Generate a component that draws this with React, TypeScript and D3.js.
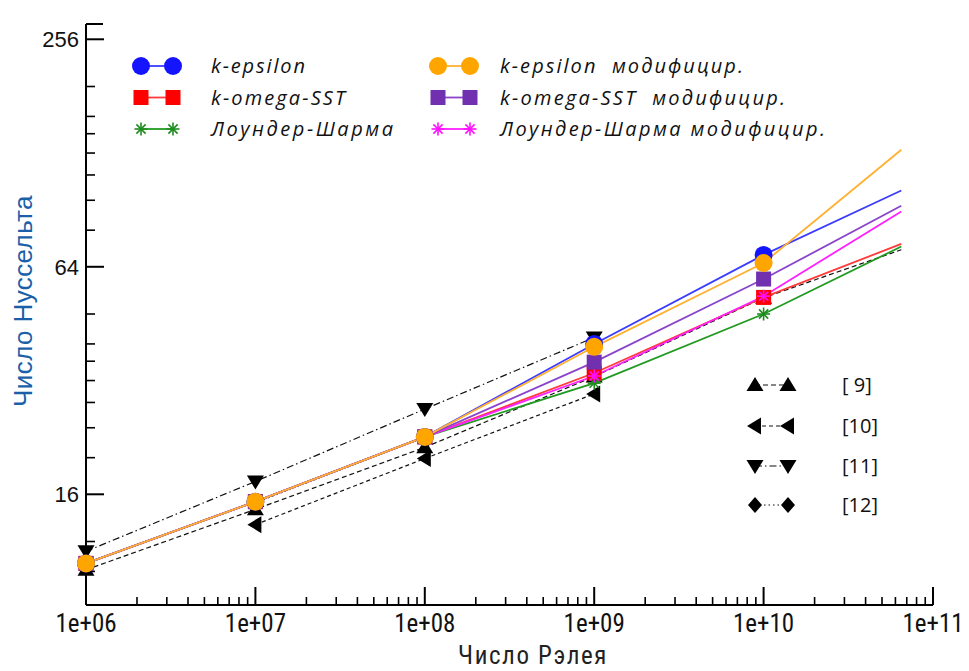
import React from "react";
import * as d3 from "d3";

// ---- data ----
const rayleigh = [1e6, 1e7, 1e8, 1e9, 1e10, 6.5e10];
const kEpsilon = [10.5, 15.3, 22.7, 40.0, 68.8, 101.9];
const kOmegaSST = [10.5, 15.3, 22.7, 33.5, 53.1, 73.6];
const lounderSharma = [10.5, 15.3, 22.7, 31.5, 48.0, 72.4];
const kEpsilonMod = [10.5, 15.3, 22.7, 39.3, 65.5, 130.6];
const kOmegaSSTMod = [10.5, 15.3, 22.7, 35.8, 59.4, 92.8];
const lounderSharmaMod = [10.5, 15.3, 22.7, 32.9, 53.5, 89.7];

const ref9X = [1e6, 1e7, 1e8, 1e9, 1e10, 6.5e10];
const ref9 = [10.1, 14.6, 21.3, 32.8, 53.0, 71.0];
const ref10X = [1e7, 1e8, 1e9];
const ref10 = [13.3, 19.9, 29.5];
const ref11X = [1e6, 1e7, 1e8, 1e9];
const ref11 = [11.3, 17.3, 26.9, 41.6];
const ref12X = [1e7, 1e8];
const ref12 = [15.2, 22.7];

const xTicks = [1e6, 1e7, 1e8, 1e9, 1e10, 1e11];
const xTickLabels = ["1e+06", "1e+07", "1e+08", "1e+09", "1e+10", "1e+11"];
const yTicks = [16, 64, 256];
const yMinorTicks = [10, 12, 20, 24, 28, 32, 36, 40, 48, 80, 96, 112, 128, 144, 160, 192];

const xLabel = "Число Рэлея";
const yLabel = "Число Нуссельта";

type Shape = "circle" | "square" | "star" | "up" | "left" | "down" | "diamond";

const models = [
  { name: "k-epsilon", values: kEpsilon, color: "#1414ff", line: "#3c3cff", shape: "circle" as Shape, tl: 94 },
  { name: "k-omega-SST", values: kOmegaSST, color: "#ff0000", line: "#ff3a3a", shape: "square" as Shape, tl: 134 },
  { name: "Лоундер-Шарма", values: lounderSharma, color: "#1e8c1e", line: "#229a22", shape: "star" as Shape, tl: 182 },
  { name: "k-epsilon  модифицир.", values: kEpsilonMod, color: "#ffa500", line: "#ffb030", shape: "circle" as Shape, tl: 243 },
  { name: "k-omega-SST  модифицир.", values: kOmegaSSTMod, color: "#7030b0", line: "#8a44cc", shape: "square" as Shape, tl: 285 },
  { name: "Лоундер-Шарма модифицир.", values: lounderSharmaMod, color: "#ff10ff", line: "#ff20ff", shape: "star" as Shape, tl: 325 },
];

const refs = [
  { name: "[ 9]", xs: ref9X, values: ref9, shape: "up" as Shape, dash: "5,3" },
  { name: "[10]", xs: ref10X, values: ref10, shape: "left" as Shape, dash: "4,3" },
  { name: "[11]", xs: ref11X, values: ref11, shape: "down" as Shape, dash: "7,3,1.5,3" },
  { name: "[12]", xs: ref12X, values: ref12, shape: "diamond" as Shape, dash: "1.5,3" },
];

const W = 969;
const H = 671;

function Marker({ shape, x, y, color }: { shape: Shape; x: number; y: number; color: string }) {
  const t = `translate(${x},${y})`;
  switch (shape) {
    case "circle":
      return <circle cx={x} cy={y} r={9} fill={color} />;
    case "square":
      return <rect x={x - 7.5} y={y - 7.5} width={15} height={15} fill={color} />;
    case "star": {
      const r = 6.5;
      return (
        <g transform={t} stroke={color} strokeWidth={1.6}>
          {[0, 45, 90, 135].map((a) => {
            const rad = (a * Math.PI) / 180;
            return <line key={a} x1={-r * Math.cos(rad)} y1={-r * Math.sin(rad)} x2={r * Math.cos(rad)} y2={r * Math.sin(rad)} />;
          })}
        </g>
      );
    }
    case "up":
      return <path transform={t} d="M0,-8 L8.5,6 L-8.5,6 Z" fill={color} />;
    case "down":
      return <path transform={t} d="M0,8 L8.5,-6 L-8.5,-6 Z" fill={color} />;
    case "left":
      return <path transform={t} d="M-8,0 L6,-8.5 L6,8.5 Z" fill={color} />;
    case "diamond":
      return <path transform={t} d="M0,-8 L7,0 L0,8 L-7,0 Z" fill={color} />;
  }
  return null;
}

export default function App() {
  const x = d3.scaleLog().domain([1e6, 1e11]).range([86, 933]);
  const y = d3.scaleLog().base(2).domain([8.15, 281]).range([605, 24]);

  const lineGen = d3
    .line<[number, number]>()
    .x((d) => x(d[0]))
    .y((d) => y(d[1]));

  const xMinor: number[] = [];
  for (let e = 6; e < 11; e++) {
    for (let k = 2; k <= 9; k++) xMinor.push(k * Math.pow(10, e));
  }

  const tickFont = "'Liberation Sans Narrow', 'Roboto Condensed', 'Arial Narrow', sans-serif";
  const legendFont = "'Open Sans', 'Noto Sans', sans-serif";

  const markerOrder = [0, 1, 2, 4, 5, 3];
  const lineOrder = [0, 1, 2, 5, 4, 3];

  return (
    <div style={{ position: "absolute", left: 0, top: 0 }}>
      <svg width={W} height={H} style={{ display: "block", background: "#fff" }}>
        {/* axes */}
        <g stroke="#000" strokeWidth={2} fill="none">
          <line x1={86} y1={y.range()[1]} x2={86} y2={605} />
          <line x1={86} y1={605} x2={933} y2={605} />
          <line x1={86} y1={24} x2={103} y2={24} />
          {yTicks.map((t) => (
            <line key={t} x1={86} x2={104} y1={y(t)} y2={y(t)} />
          ))}
          {yMinorTicks.map((t) => (
            <line key={"m" + t} x1={86} x2={95} y1={y(t)} y2={y(t)} strokeWidth={1.6} />
          ))}
          {xTicks.map((t) => (
            <line key={t} x1={x(t)} x2={x(t)} y1={605} y2={587} />
          ))}
          {xMinor.map((t) => (
            <line key={"m" + t} x1={x(t)} x2={x(t)} y1={605} y2={597} strokeWidth={1.6} />
          ))}
        </g>
        {/* tick labels */}
        {yTicks.map((t) => (
          <text key={t} x={79} y={y(t)} dy="0.36em" textAnchor="end" fontFamily="'Liberation Sans', Arial, sans-serif" fontSize={22} fill="#111">
            {t}
          </text>
        ))}
        {xTicks.map((t, i) => (
          <text key={t} x={x(t)} y={623} dy="0.36em" textAnchor="middle" fontFamily={tickFont} fontSize={25} fill="#111">
            {xTickLabels[i]}
          </text>
        ))}
        <text x={533} y={664} textAnchor="middle" fontFamily={tickFont} fontSize={25} letterSpacing={1.6} fill="#222">
          {xLabel}
        </text>
        <text
          transform={`translate(23,301) rotate(-90)`}
          textAnchor="middle"
          dy="0.36em"
          fontFamily="'Liberation Sans', Arial, sans-serif"
          fontSize={26}
          letterSpacing={0.4}
          fill="#1a5fa8"
        >
          {yLabel}
        </text>

        {/* reference series */}
        {refs.map((r) => (
          <path
            key={r.name}
            d={lineGen(r.xs.map((v, i) => [v, r.values[i]] as [number, number])) || ""}
            fill="none"
            stroke="#111"
            strokeWidth={1.2}
            strokeDasharray={r.dash}
          />
        ))}
        {refs.map((r) =>
          r.xs.map((v, i) =>
            v <= 1e10 ? <Marker key={r.name + i} shape={r.shape} x={x(v)} y={y(r.values[i])} color="#000" /> : null
          )
        )}

        {/* model lines */}
        {lineOrder.map((mi) => {
          const m = models[mi];
          return (
            <path
              key={m.name}
              d={lineGen(rayleigh.map((v, i) => [v, m.values[i]] as [number, number])) || ""}
              fill="none"
              stroke={m.line}
              strokeWidth={1.8}
            />
          );
        })}
        {markerOrder.map((mi) => {
          const m = models[mi];
          return (
            <g key={m.name}>
              {rayleigh.map((v, i) =>
                v <= 1e10 ? <Marker key={i} shape={m.shape} x={x(v)} y={y(m.values[i])} color={m.color} /> : null
              )}
            </g>
          );
        })}

        {/* legend: models */}
        {models.map((m, i) => {
          const col = i < 3 ? 0 : 1;
          const row = i % 3;
          const x0 = col === 0 ? 141 : 438;
          const x1 = col === 0 ? 173 : 470;
          const tx = col === 0 ? 211 : 500;
          const yy = 66 + row * 31.5;
          return (
            <g key={m.name}>
              <line x1={x0} x2={x1} y1={yy} y2={yy} stroke={m.line} strokeWidth={1.8} />
              <Marker shape={m.shape} x={x0} y={yy} color={m.color} />
              <Marker shape={m.shape} x={x1} y={yy} color={m.color} />
              <text
                x={tx}
                y={yy}
                dy="0.35em"
                fontFamily={legendFont}
                fontStyle="italic"
                fontSize={20}
                textLength={m.tl}
                lengthAdjust="spacing"
                style={{ whiteSpace: "pre" }}
                fill="#111"
              >
                {m.name}
              </text>
            </g>
          );
        })}

        {/* legend: references */}
        {refs.map((r, i) => {
          const yy = [385, 426, 466, 505][i];
          return (
            <g key={r.name}>
              <line x1={755} x2={788} y1={yy} y2={yy} stroke="#111" strokeWidth={1.2} strokeDasharray={r.dash} />
              <Marker shape={r.shape} x={755} y={yy} color="#000" />
              <Marker shape={r.shape} x={788} y={yy} color="#000" />
              <text x={842} y={yy} dy="0.36em" fontFamily={legendFont} fontSize={20} style={{ whiteSpace: "pre" }} fill="#111">
                {r.name}
              </text>
            </g>
          );
        })}
      </svg>
    </div>
  );
}
